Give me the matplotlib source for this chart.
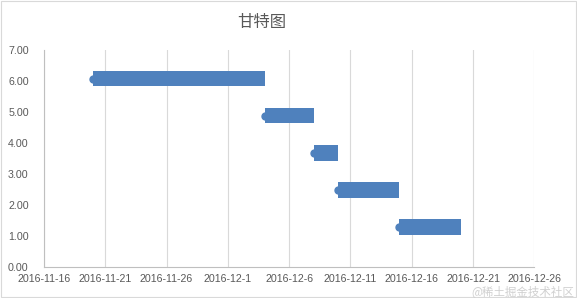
import datetime as dt
import matplotlib
matplotlib.use("Agg")
import matplotlib.pyplot as plt
import matplotlib.dates as mdates
from matplotlib.patches import Rectangle

# task data
task_y = [6.08, 4.88, 3.68, 2.48, 1.28]
task_start = ["2016-11-20", "2016-12-4", "2016-12-8", "2016-12-10", "2016-12-15"]
task_end = ["2016-12-4", "2016-12-8", "2016-12-10", "2016-12-15", "2016-12-20"]

x_first = "2016-11-16"
x_last = "2016-12-26"
x_step_days = 5
y_ticks = [0, 1, 2, 3, 4, 5, 6, 7]

blue = "#4F81BD"
grey_text = "#595959"


def to_date(s):
    return dt.datetime.strptime(s, "%Y-%m-%d")


starts = [to_date(s) for s in task_start]
ends = [to_date(s) for s in task_end]
durations = [(e - s).days for s, e in zip(starts, ends)]

fig = plt.figure(figsize=(5.77, 2.98), dpi=100)
ax = fig.add_axes([0.0763, 0.105, 0.8497, 0.727])

# dot at each start, then the thick bar on top of it
ax.plot(mdates.date2num(starts), task_y, "o", ms=5, color=blue, zorder=2)
ax.barh(task_y, durations, left=mdates.date2num(starts), height=0.5,
        color=blue, zorder=3)

d0, d1 = to_date(x_first), to_date(x_last)
ticks = []
d = d0
while d <= d1:
    ticks.append(d)
    d += dt.timedelta(days=x_step_days)
ax.set_xlim(mdates.date2num(d0), mdates.date2num(d1))
ax.set_xticks(mdates.date2num(ticks))
ax.set_xticklabels([f"{t.year}-{t.month}-{t.day}" for t in ticks])

ax.set_ylim(0, 7)
ax.set_yticks(y_ticks)
ax.set_yticklabels([f"{v:.2f}" for v in y_ticks])

ax.grid(axis="x", color="#d9d9d9", lw=0.8, zorder=0)
ax.set_axisbelow(True)
for side in ["top", "right"]:
    ax.spines[side].set_visible(False)
for side in ["left", "bottom"]:
    ax.spines[side].set_color("#bfbfbf")
    ax.spines[side].set_linewidth(0.8)

ax.tick_params(axis="both", length=0, colors=grey_text, labelsize=7.7)
ax.tick_params(axis="x", pad=5)
ax.tick_params(axis="y", pad=11)
for lab in ax.get_xticklabels() + ax.get_yticklabels():
    lab.set_fontfamily("Liberation Sans")

fig.text(261.5 / 577, 1 - 22 / 298, "甘特图", ha="center", va="center",
         fontsize=11.8, color=grey_text, family=["Noto Sans CJK SC", "DejaVu Sans"])

# watermark, bottom right
fig.text(0.995, 1 - 291.5 / 298, "@稀土掘金技术社区", ha="right", va="center",
         fontsize=8.3, color="#d0d0d0", family=["Noto Sans CJK SC", "DejaVu Sans"])

# chart area border
fig.patches.append(Rectangle((0.002, 0.003), 0.996, 0.994, transform=fig.transFigure,
                             fill=False, ec="#d9d9d9", lw=0.8))

fig.savefig("out.png", dpi=100)
